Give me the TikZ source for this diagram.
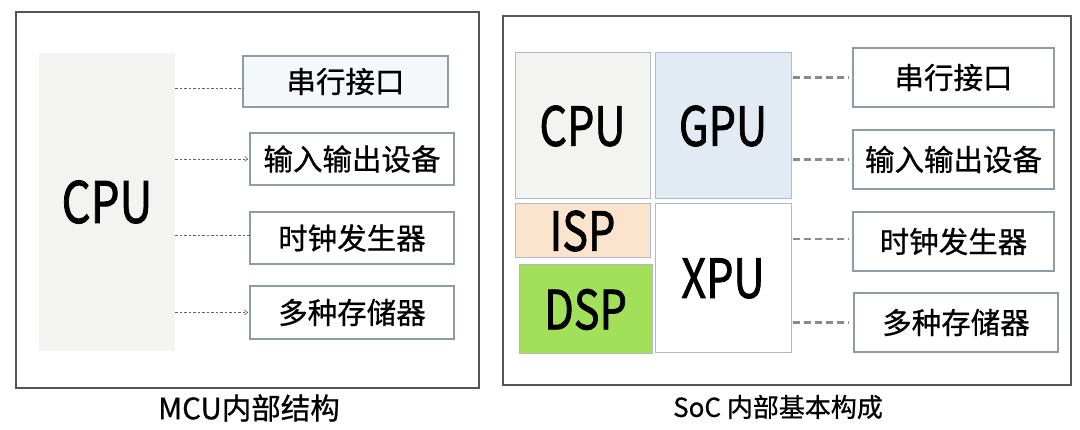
\documentclass[tikz,border=0pt]{standalone}
\usepackage{fontspec}
\setmainfont{Noto Sans CJK SC}
\newfontfamily\heavyfont{Noto Sans CJK SC}[FakeBold=1.6]
\newfontfamily\midfont{Noto Sans CJK SC}[FakeBold=0.7]
\usetikzlibrary{arrows.meta}
\definecolor{panelline}{HTML}{555555}
\definecolor{boxline}{HTML}{8E9CA8}
\definecolor{cpufill}{HTML}{F3F3F2}
\definecolor{gpufill}{HTML}{E2EBF4}
\definecolor{gpuline}{HTML}{A9BDD0}
\definecolor{ispfill}{HTML}{FBE4CE}
\definecolor{dspfill}{HTML}{A3E05A}
\definecolor{serialfill}{HTML}{F5F8FB}
\definecolor{conn}{HTML}{8A8A8A}
\newcommand{\biglabel}[1]{\scalebox{0.8}[1]{#1}}
\tikzset{
  panel/.style={draw=panelline, line width=1.4pt},
  itembox/.style={draw=boxline, line width=1.2pt, fill=white, inner sep=0pt, outer sep=0pt,
    font=\midfont\fontsize{29.5}{32}\selectfont},
  block/.style={draw=#1, line width=1pt, inner sep=0pt, outer sep=0pt,
    font=\heavyfont\fontsize{54}{58}\selectfont},
  caption/.style={font=\midfont\fontsize{29.5}{32}\selectfont, inner sep=0pt},
  thinconn/.style={draw=conn!70!black, line width=0.9pt, dash pattern=on 2.5pt off 2pt},
  thinarrow/.style={thinconn, -{Straight Barb[length=3pt,width=5pt,line width=0.6pt]}},
  thickconn/.style={draw=conn, line width=2.6pt, dash pattern=on 7pt off 4pt}
}
\begin{document}
\begin{tikzpicture}[x=1pt,y=-1pt]
\useasboundingbox[fill=white] (0,0) rectangle (1080,430);
% ---------- left panel ----------
\draw[panel] (16,12) rectangle (479,388);
\node[fill=cpufill, inner sep=0pt, outer sep=0pt, minimum width=136pt, minimum height=298pt,
  font=\heavyfont\fontsize{57}{60}\selectfont] (cpuL) at (107,202) {\biglabel{CPU}};
\node[itembox, fill=serialfill, minimum width=205pt, minimum height=51pt] (l1) at (345.5,81.5) {串行接口};
\node[itembox, minimum width=204pt, minimum height=52pt] (l2) at (352,159) {输入输出设备};
\node[itembox, minimum width=204pt, minimum height=52pt] (l3) at (352,238) {时钟发生器};
\node[itembox, minimum width=204pt, minimum height=53pt] (l4) at (352,312.5) {多种存储器};
\draw[thinconn] (cpuL.east |- 0,88) -- (l1.west |- 0,88);
\draw[thinarrow] (cpuL.east |- l2.west) -- ([xshift=-2pt]l2.west);
\draw[thinconn] (cpuL.east |- 0,235) -- (l3.west |- 0,235);
\draw[thinarrow] (cpuL.east |- l4.west) -- ([xshift=-2pt]l4.west);
\node[caption] (capL) at (249,408) {MCU内部结构};
% ---------- right panel ----------
\draw[panel] (503,16) rectangle (1071,385);
\node[block=boxline!70, fill=cpufill, minimum width=135pt, minimum height=146pt] (cpuR) at (582.5,126) {\biglabel{CPU}};
\node[block=gpuline, fill=gpufill, minimum width=136pt, minimum height=146pt] (gpu) at (723,126) {\biglabel{GPU}};
\node[block=boxline!70, fill=ispfill, minimum width=135pt, minimum height=54pt] (isp) at (582.5,231) {\biglabel{ISP}};
\node[block=boxline!70, fill=dspfill, minimum width=133pt, minimum height=89pt] (dsp) at (585.5,309.5) {\biglabel{DSP}};
\node[block=boxline!70, fill=white, minimum width=136pt, minimum height=149pt] (xpu) at (723,278.5) {\biglabel{XPU}};
\node[itembox, minimum width=201pt, minimum height=59pt] (r1) at (953.5,77.5) {串行接口};
\node[itembox, minimum width=201pt, minimum height=59pt] (r2) at (953.5,159.5) {输入输出设备};
\node[itembox, minimum width=201pt, minimum height=59pt] (r3) at (953.5,241.5) {时钟发生器};
\node[itembox, minimum width=204pt, minimum height=59pt] (r4) at (956,322.5) {多种存储器};
\draw[thickconn] ([xshift=2pt]gpu.east |- r1.west) -- ([xshift=-4pt]r1.west);
\draw[thickconn] ([xshift=2pt]gpu.east |- r2.west) -- ([xshift=-4pt]r2.west);
\draw[thickconn] ([xshift=2pt]xpu.east |- 0,239) -- ([xshift=-4pt]r3.west |- 0,239);
\draw[thickconn] ([xshift=2pt]xpu.east |- r4.west) -- ([xshift=-5pt]r4.west);
\node[caption, font=\midfont\fontsize{26}{30}\selectfont] (capR) at (778,407) {SoC 内部基本构成};
\end{tikzpicture}
\end{document}
